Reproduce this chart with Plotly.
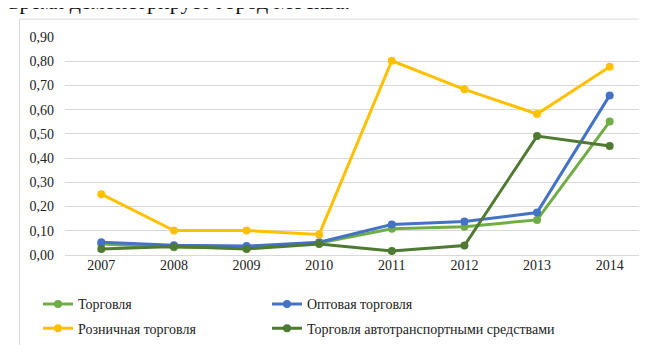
import plotly.graph_objects as go

years = ["2007", "2008", "2009", "2010", "2011", "2012", "2013", "2014"]
trade = [0.045, 0.032, 0.030, 0.050, 0.108, 0.117, 0.145, 0.551]
wholesale = [0.053, 0.040, 0.037, 0.053, 0.126, 0.138, 0.175, 0.659]
retail = [0.251, 0.101, 0.101, 0.085, 0.802, 0.684, 0.582, 0.777]
auto = [0.025, 0.035, 0.025, 0.045, 0.017, 0.039, 0.491, 0.450]
names = ["Торговля", "Оптовая торговля", "Розничная торговля",
         "Торговля автотранспортными средствами"]
colors = ["#70AD47", "#4472C4", "#FFC000", "#4E7A32"]
y_ticks = [0.0, 0.1, 0.2, 0.3, 0.4, 0.5, 0.6, 0.7, 0.8, 0.9]

W, H = 647, 345
L, R, T, B = 57, 9, 29, 91
pw, ph = W - L - R, H - T - B

def px(x):
    return (x - L) / pw

def py(y):
    return (H - B - y) / ph

FONT = "'Liberation Serif', 'Times New Roman', serif"
fig = go.Figure()
series = [trade, wholesale, retail, auto]
legends = ["legend", "legend2", "legend3", "legend4"]
for name, vals, col, lg in zip(names, series, colors, legends):
    fig.add_trace(go.Scatter(
        x=years, y=vals, name=name, mode="lines+markers",
        line=dict(color=col, width=3),
        marker=dict(color=col, size=8),
        legend=lg,
    ))

leg_common = dict(orientation="h", xanchor="left", yanchor="middle",
                  font=dict(family=FONT, size=14, color="#222"),
                  bgcolor="rgba(0,0,0,0)", itemwidth=30)
fig.update_layout(
    width=W, height=H,
    margin=dict(l=L, r=R, t=T, b=B),
    paper_bgcolor="white", plot_bgcolor="white",
    separators=", ",
    font=dict(family=FONT, size=14, color="#222"),
    legend=dict(x=px(30), y=py(305), **leg_common),
    legend2=dict(x=px(259), y=py(305), **leg_common),
    legend3=dict(x=px(30), y=py(330), **leg_common),
    legend4=dict(x=px(259), y=py(330), **leg_common),
    xaxis=dict(type="category", showgrid=False, showline=False,
               ticks="", tickfont=dict(family=FONT, size=14, color="#222"),
               range=[-0.5, 7.5]),
    yaxis=dict(range=[0, 0.9], tickvals=y_ticks, tickformat=".2f",
               showgrid=True, gridcolor="#d9d9d9", gridwidth=1,
               zeroline=True, zerolinecolor="#d9d9d9", zerolinewidth=1,
               showline=False, ticks="", ticklabelstandoff=10,
               tickfont=dict(family=FONT, size=14, color="#222")),
    showlegend=True,
)

# outer chart frame
fig.add_shape(type="rect", xref="paper", yref="paper",
              x0=px(11.5), x1=px(660), y0=py(10.5), y1=py(360),
              line=dict(color="#d9d9d9", width=1), fillcolor="rgba(0,0,0,0)",
              layer="below")

# preceding document text, partially cut off at the top
fig.add_annotation(text="время демонстрирует город Москва.",
                   xref="paper", yref="paper", x=px(-1), y=py(7),
                   xanchor="left", yanchor="bottom", showarrow=False,
                   font=dict(family=FONT, size=22, color="#111"))

fig.write_html("out.html")
